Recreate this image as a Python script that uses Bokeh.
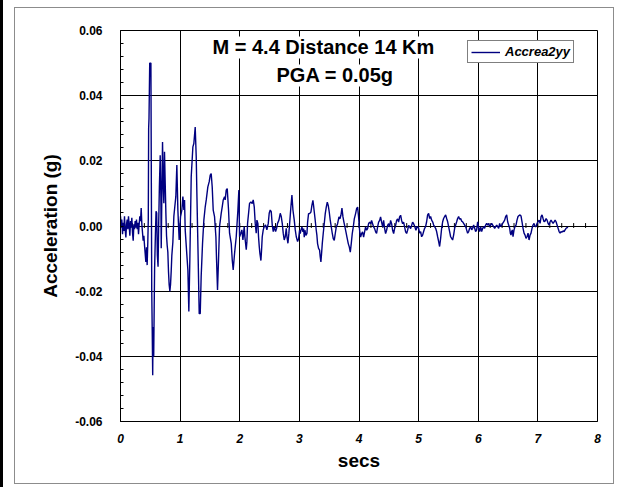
import numpy as np
from bokeh.plotting import figure
from bokeh.layouts import row
from bokeh.models import (Range1d, FixedTicker, Label, Legend, Div,
                          LegendItem, PrintfTickFormatter, ColumnDataSource)
from bokeh.embed import file_html
from bokeh.resources import INLINE

# ---------------- data ----------------
series_name = "Accrea2yy"
title_line1 = "M = 4.4  Distance 14 Km"
title_line2 = "PGA = 0.05g"
x_label = "secs"
y_label = "Acceleration (g)"
x_ticks = [0, 1, 2, 3, 4, 5, 6, 7, 8]
y_ticks = [-0.06, -0.04, -0.02, 0.0, 0.02, 0.04, 0.06]

time_s = [
    0.000, 0.012, 0.022, 0.034, 0.045, 0.056, 0.067, 0.078, 0.090, 0.101,
    0.112, 0.123, 0.134, 0.146, 0.157, 0.168, 0.179, 0.190, 0.201, 0.213,
    0.224, 0.235, 0.246, 0.257, 0.268, 0.280, 0.291, 0.302, 0.313, 0.324,
    0.336, 0.347, 0.358, 0.369, 0.380, 0.392, 0.403, 0.414, 0.425, 0.436,
    0.447, 0.458, 0.466, 0.472, 0.478, 0.490, 0.510, 0.518, 0.524, 0.532,
    0.540, 0.546, 0.552, 0.557, 0.565, 0.572, 0.585, 0.596, 0.607, 0.618,
    0.630, 0.641, 0.652, 0.666, 0.677, 0.683, 0.694, 0.705, 0.716, 0.727,
    0.738, 0.750, 0.761, 0.772, 0.783, 0.794, 0.805, 0.816, 0.828, 0.839,
    0.850, 0.861, 0.878, 0.895, 0.911, 0.928, 0.945, 0.962, 0.984,
    1.007, 1.029, 1.046, 1.063, 1.074, 1.085, 1.107, 1.130, 1.146, 1.163,
    1.186, 1.214, 1.230, 1.253, 1.270, 1.281, 1.292, 1.303, 1.320, 1.337,
    1.353, 1.376, 1.398, 1.421, 1.438, 1.465, 1.488, 1.505, 1.521, 1.538,
    1.555, 1.577, 1.600, 1.611, 1.627, 1.644, 1.661, 1.689, 1.706, 1.723,
    1.745, 1.756, 1.773, 1.790, 1.812, 1.829, 1.857, 1.874, 1.890, 1.913,
    1.941, 1.969, 1.985,
    1.997, 2.019, 2.036, 2.053, 2.075, 2.086, 2.109, 2.120, 2.131, 2.148,
    2.164, 2.187, 2.209, 2.226, 2.243, 2.260, 2.276, 2.288, 2.304, 2.315,
    2.327, 2.338, 2.355, 2.366, 2.377, 2.394, 2.411, 2.433, 2.455, 2.478,
    2.494, 2.511, 2.528, 2.545, 2.562, 2.578, 2.601, 2.618, 2.634, 2.657,
    2.679, 2.696, 2.713, 2.729, 2.746, 2.763, 2.780, 2.791, 2.808, 2.824,
    2.841, 2.858, 2.875, 2.892, 2.914, 2.931, 2.948, 2.970,
    2.987, 3.003, 3.015, 3.026, 3.043, 3.059, 3.071, 3.082, 3.093, 3.110,
    3.127, 3.138, 3.154, 3.171, 3.194, 3.210, 3.227, 3.238, 3.250, 3.266,
    3.283, 3.294, 3.305, 3.322, 3.339, 3.350, 3.361, 3.372, 3.384, 3.400,
    3.417, 3.434, 3.451, 3.468, 3.484, 3.501, 3.518, 3.535, 3.552, 3.568,
    3.585, 3.602, 3.619, 3.641, 3.664, 3.680, 3.697, 3.714, 3.731, 3.747,
    3.764, 3.781, 3.798, 3.820, 3.837, 3.854, 3.870, 3.887, 3.904, 3.921,
    3.943, 3.960, 3.977,
    3.993, 4.010, 4.027, 4.044, 4.060, 4.077, 4.094, 4.111, 4.128, 4.144,
    4.161, 4.178, 4.195, 4.211, 4.228, 4.245, 4.262, 4.279, 4.295, 4.312,
    4.329, 4.346, 4.362, 4.379, 4.396, 4.413, 4.430, 4.446, 4.463, 4.480,
    4.497, 4.513, 4.530, 4.547, 4.564, 4.581, 4.597, 4.614, 4.631, 4.648,
    4.664, 4.681, 4.698, 4.715, 4.732, 4.748, 4.765, 4.782, 4.799, 4.815,
    4.832, 4.849, 4.866, 4.883, 4.899, 4.916, 4.938, 4.955, 4.972,
    4.983, 5.000, 5.017, 5.034, 5.050, 5.067, 5.084, 5.101, 5.117, 5.134,
    5.151, 5.168, 5.185, 5.201, 5.218, 5.235, 5.252, 5.268, 5.285, 5.302,
    5.319, 5.336, 5.352, 5.369, 5.386, 5.403, 5.419, 5.436, 5.453, 5.470,
    5.487, 5.503, 5.520, 5.537, 5.554, 5.570, 5.587, 5.604, 5.621, 5.638,
    5.654, 5.671, 5.688, 5.705, 5.721, 5.738, 5.755, 5.772, 5.789, 5.805,
    5.822, 5.839, 5.856, 5.873, 5.889, 5.906, 5.923, 5.940, 5.956, 5.973,
    5.990, 6.007, 6.023, 6.040, 6.057, 6.074, 6.091, 6.107, 6.124, 6.141,
    6.158, 6.174, 6.191, 6.208, 6.225, 6.242, 6.258, 6.275, 6.292, 6.309,
    6.326, 6.342, 6.359, 6.376, 6.393, 6.409, 6.426, 6.443, 6.460, 6.477,
    6.493, 6.510, 6.527, 6.538, 6.549, 6.560, 6.572, 6.583, 6.600, 6.617,
    6.633, 6.650, 6.667, 6.684, 6.701, 6.717, 6.734, 6.751, 6.768, 6.785,
    6.801, 6.818, 6.835, 6.852, 6.869, 6.885, 6.902, 6.919, 6.936, 6.953,
    6.969, 6.986, 7.003, 7.020, 7.037, 7.054, 7.070, 7.087, 7.104, 7.121,
    7.138, 7.154, 7.171, 7.188, 7.205, 7.221, 7.238, 7.255, 7.272, 7.289,
    7.305, 7.322, 7.339, 7.356, 7.373, 7.389, 7.406, 7.423, 7.440, 7.456,
    7.473, 7.490, 7.507,
]

accel_g = [
    0.0030, -0.0005, 0.0020, -0.0025, 0.0010, -0.0015, 0.0030, -0.0010, -0.0035, 0.0005,
    0.0020, -0.0010, 0.0030, 0.0000, -0.0030, 0.0015, -0.0005, 0.0025, -0.0020, -0.0045,
    0.0005, -0.0010, 0.0015, -0.0005, 0.0020, -0.0010, 0.0010, -0.0025, 0.0005, 0.0030,
    0.0015, 0.0055, 0.0005, -0.0020, -0.0045, -0.0030, -0.0060, -0.0085, -0.0110, -0.0065,
    -0.0120, -0.0050, 0.0020, 0.0300, 0.0330, 0.0500, 0.0500, 0.0100, -0.0200, -0.0320,
    -0.0458, -0.0310, -0.0380, -0.0400, -0.0250, -0.0130, -0.0030, 0.0045, 0.0040, -0.0090,
    -0.0125, 0.0010, 0.0120, 0.0217, 0.0090, -0.0068, 0.0100, 0.0258, 0.0130, 0.0070,
    0.0228, 0.0130, 0.0040, -0.0030, -0.0060, -0.0080, -0.0140, -0.0180, -0.0200, -0.0180,
    -0.0140, -0.0090, -0.0050, 0.0030, 0.0060, 0.0090, 0.0187, 0.0050, -0.0043,
    0.0029, 0.0049, 0.0090, 0.0049, 0.0080, -0.0012, -0.0073, -0.0135, -0.0262, -0.0104,
    0.0151, 0.0243, 0.0253, 0.0304, 0.0212, 0.0100, -0.0002, -0.0104, -0.0269, -0.0269,
    -0.0155, -0.0053, 0.0018, 0.0059, 0.0080, 0.0120, 0.0136, 0.0156, 0.0161, 0.0120,
    0.0049, 0.0029, -0.0033, -0.0104, -0.0196, -0.0104, -0.0002, 0.0039, 0.0059, 0.0080,
    0.0090, 0.0080, 0.0110, 0.0115, 0.0049, -0.0022, -0.0053, -0.0104, -0.0135, -0.0084,
    -0.0033, 0.0049, 0.0110,
    -0.0033, -0.0022, -0.0012, -0.0043, -0.0002, -0.0033, -0.0073, -0.0048, 0.0008, 0.0039,
    0.0069, 0.0074, 0.0069, 0.0080, 0.0059, 0.0008, -0.0022, 0.0018, 0.0008, -0.0033,
    -0.0063, -0.0084, -0.0106, -0.0073, -0.0033, -0.0012, -0.0002, 0.0003, -0.0012, 0.0008,
    0.0039, 0.0049, 0.0044, 0.0003, -0.0017, -0.0002, -0.0017, -0.0007, 0.0008, 0.0018,
    0.0039, 0.0029, 0.0008, -0.0022, -0.0043, -0.0033, -0.0007, -0.0033, -0.0053, -0.0022,
    0.0018, 0.0059, 0.0095, 0.0049, 0.0018, -0.0012, -0.0033, -0.0048,
    -0.0039, -0.0013, -0.0023, -0.0013, -0.0003, -0.0018, -0.0008, -0.0034, -0.0013, -0.0029,
    -0.0023, 0.0012, 0.0038, 0.0038, 0.0043, 0.0063, 0.0079, 0.0063, 0.0043, 0.0017,
    -0.0013, -0.0029, -0.0054, -0.0069, -0.0074, -0.0095, -0.0110, -0.0085, -0.0054, -0.0023,
    0.0007, 0.0038, 0.0058, 0.0073, 0.0063, 0.0043, 0.0017, -0.0003, -0.0023, -0.0039,
    -0.0044, -0.0023, -0.0003, 0.0007, 0.0028, 0.0022, 0.0033, 0.0055, 0.0028, 0.0012,
    -0.0003, -0.0018, -0.0034, -0.0054, -0.0064, -0.0080, -0.0054, -0.0023, -0.0003, 0.0022,
    0.0038, 0.0053, 0.0058,
    0.0028, -0.0013, -0.0034, -0.0023, -0.0018, -0.0034, -0.0018, -0.0003, -0.0013, -0.0008,
    0.0007, 0.0012, 0.0007, 0.0017, 0.0007, -0.0003, -0.0008, -0.0018, -0.0023, -0.0003,
    0.0012, 0.0017, 0.0028, 0.0012, -0.0003, 0.0017, -0.0008, -0.0023, -0.0013, 0.0002,
    0.0007, -0.0003, 0.0017, 0.0007, -0.0013, -0.0023, -0.0008, 0.0002, 0.0017, 0.0022,
    0.0012, 0.0028, 0.0033, 0.0017, 0.0007, 0.0012, -0.0003, -0.0018, -0.0023, -0.0013,
    0.0002, -0.0003, -0.0008, 0.0002, 0.0012, 0.0007, -0.0003, -0.0013, -0.0003,
    -0.0002, -0.0007, -0.0022, -0.0017, -0.0033, -0.0028, -0.0017, -0.0007, -0.0002, 0.0013,
    0.0034, 0.0039, 0.0023, 0.0029, 0.0018, 0.0013, 0.0003, -0.0002, -0.0007, -0.0017,
    -0.0033, -0.0048, -0.0063, -0.0038, -0.0007, 0.0013, 0.0023, 0.0029, 0.0034, 0.0023,
    0.0013, -0.0002, -0.0017, -0.0033, -0.0038, -0.0043, -0.0028, -0.0007, 0.0003, 0.0013,
    0.0023, 0.0029, 0.0021, 0.0023, 0.0015, 0.0013, 0.0008, 0.0003, -0.0002, -0.0012,
    -0.0022, -0.0017, -0.0007, -0.0002, -0.0012, -0.0007, 0.0003, -0.0007, -0.0017, -0.0012,
    0.0013, -0.0007, -0.0017, -0.0002, -0.0017, -0.0007, -0.0002, -0.0007, 0.0003, 0.0008,
    0.0003, 0.0008, -0.0002, 0.0003, 0.0008, 0.0003, -0.0002, -0.0007, -0.0002, 0.0003,
    -0.0002, -0.0007, 0.0008, -0.0002, 0.0003, 0.0008, 0.0013, 0.0018, 0.0029, 0.0034,
    0.0013, 0.0003, -0.0007, -0.0022, -0.0028, -0.0017, -0.0012, -0.0033, -0.0012, -0.0002,
    0.0003, 0.0018, 0.0029, 0.0032, 0.0034, 0.0031, 0.0013, -0.0007, -0.0022, -0.0028,
    -0.0038, -0.0033, -0.0022, -0.0043, -0.0028, -0.0022, -0.0007, 0.0003, 0.0008, -0.0002,
    -0.0002, 0.0008, 0.0013, 0.0018, 0.0008, 0.0029, 0.0034, 0.0023, 0.0013, 0.0015,
    0.0023, 0.0018, 0.0008, 0.0003, 0.0013, 0.0018, 0.0013, 0.0008, 0.0013, 0.0018,
    0.0013, 0.0003, -0.0007, -0.0017, -0.0022, -0.0017, -0.0019, -0.0015, -0.0017, -0.0012,
    -0.0007, -0.0005, -0.0004,
]

# ---------------- figure ----------------
FONT = "Liberation Sans"
# figure canvas sits inside a 1px grey chart border at (14,7)-(615,485)
CANVAS_X, CANVAS_Y, CANVAS_W, CANVAS_H = 15, 8, 600, 477
FRAME_L, FRAME_R, FRAME_T, FRAME_B = 120, 597, 30, 421

p = figure(width=CANVAS_W, height=CANVAS_H, output_backend="svg", toolbar_location=None,
           x_range=Range1d(x_ticks[0], x_ticks[-1]),
           y_range=Range1d(y_ticks[0], y_ticks[-1]),
           min_border_left=FRAME_L - CANVAS_X,
           min_border_right=CANVAS_X + CANVAS_W - FRAME_R,
           min_border_top=FRAME_T - CANVAS_Y,
           min_border_bottom=CANVAS_Y + CANVAS_H - FRAME_B)
p.background_fill_color = "white"
p.border_fill_color = "white"
p.outline_line_color = "black"
p.outline_line_width = 1
p.styles = {"border": "1px solid #8c8c8c"}
p.margin = (CANVAS_Y - 1, 0, 0, CANVAS_X - 1 - 3)

# grid
p.xgrid.ticker = FixedTicker(ticks=x_ticks)
p.ygrid.ticker = FixedTicker(ticks=y_ticks)
for g in (p.xgrid, p.ygrid):
    g.grid_line_color = "black"
    g.grid_line_alpha = 1.0
    g.grid_line_width = 1

# y axis
y_minor = [round(v, 4) for v in np.arange(y_ticks[0], y_ticks[-1] + 1e-9, 0.004)]
p.yaxis.ticker = FixedTicker(ticks=y_ticks, minor_ticks=y_minor)
p.yaxis.formatter = PrintfTickFormatter(format="%.2f")
p.yaxis.major_tick_in = 0
p.yaxis.major_tick_out = 0
p.yaxis.minor_tick_in = 3
p.yaxis.minor_tick_out = 0
p.yaxis.major_label_standoff = 18
p.yaxis.major_label_text_font = FONT
p.yaxis.major_label_text_font_size = "12px"
p.yaxis.major_label_text_font_style = "bold"
p.yaxis.major_label_text_color = "black"
p.yaxis.axis_label = y_label
p.yaxis.axis_label_text_font = FONT
p.yaxis.axis_label_text_font_size = "19px"
p.yaxis.axis_label_text_font_style = "bold"
p.yaxis.axis_label_text_color = "black"
p.yaxis.axis_label_standoff = 11
p.yaxis.axis_line_color = "black"

# x axis
p.xaxis.ticker = FixedTicker(ticks=x_ticks, minor_ticks=[])
p.xaxis.major_tick_in = 0
p.xaxis.major_tick_out = 0
p.xaxis.minor_tick_in = 0
p.xaxis.minor_tick_out = 0
p.xaxis.major_label_standoff = 12
p.xaxis.major_label_text_font = FONT
p.xaxis.major_label_text_font_size = "12px"
p.xaxis.major_label_text_font_style = "bold italic"
p.xaxis.major_label_text_color = "black"
p.xaxis.axis_label = x_label
p.xaxis.axis_label_text_font = FONT
p.xaxis.axis_label_text_font_size = "19px"
p.xaxis.axis_label_text_font_style = "bold"
p.xaxis.axis_label_text_color = "black"
p.xaxis.axis_label_standoff = 4
p.xaxis.axis_line_color = "black"

# small ticks on the zero line every 0.2 s
zero_ticks = [round(v, 1) for v in np.arange(x_ticks[0], x_ticks[-1] + 1e-9, 0.2)]
p.segment(x0=zero_ticks, y0=[-0.0006] * len(zero_ticks),
          x1=zero_ticks, y1=[0.0009] * len(zero_ticks),
          line_color="black", line_width=1)

# the record
src = ColumnDataSource(dict(t=time_s, a=accel_g))
r = p.line("t", "a", source=src, line_color="#000080", line_width=1.4)

# titles inside the plot
t1 = Label(x=3.45, y=0.0548, text=title_line1, text_align="center",
           text_baseline="middle", text_font=FONT, text_font_size="20px",
           text_font_style="bold", text_color="black",
           background_fill_color="white", background_fill_alpha=1.0)
t2 = Label(x=3.6, y=0.0462, text=title_line2, text_align="center",
           text_baseline="middle", text_font=FONT, text_font_size="20px",
           text_font_style="bold", text_color="black",
           background_fill_color="white", background_fill_alpha=1.0)
p.add_layout(t1)
p.add_layout(t2)

# legend
legend = Legend(items=[LegendItem(label=series_name, renderers=[r])],
                location=(347, 358))
legend.label_text_font = FONT
legend.label_text_font_size = "13px"
legend.label_text_font_style = "bold italic"
legend.label_text_color = "black"
legend.glyph_width = 29
legend.glyph_height = 12
legend.label_standoff = 5
legend.padding = 3
legend.margin = 0
legend.spacing = 0
legend.border_line_color = "black"
legend.border_line_width = 1
legend.background_fill_color = "white"
legend.background_fill_alpha = 1.0
p.add_layout(legend)

# black edge line on the far left of the page
edge = Div(text="", width=3, height=487, margin=(0, 0, 0, 0),
           styles={"background-color": "black"})
page = row(edge, p, spacing=0)

with open("out.html", "w") as f:
    f.write(file_html(page, INLINE))
